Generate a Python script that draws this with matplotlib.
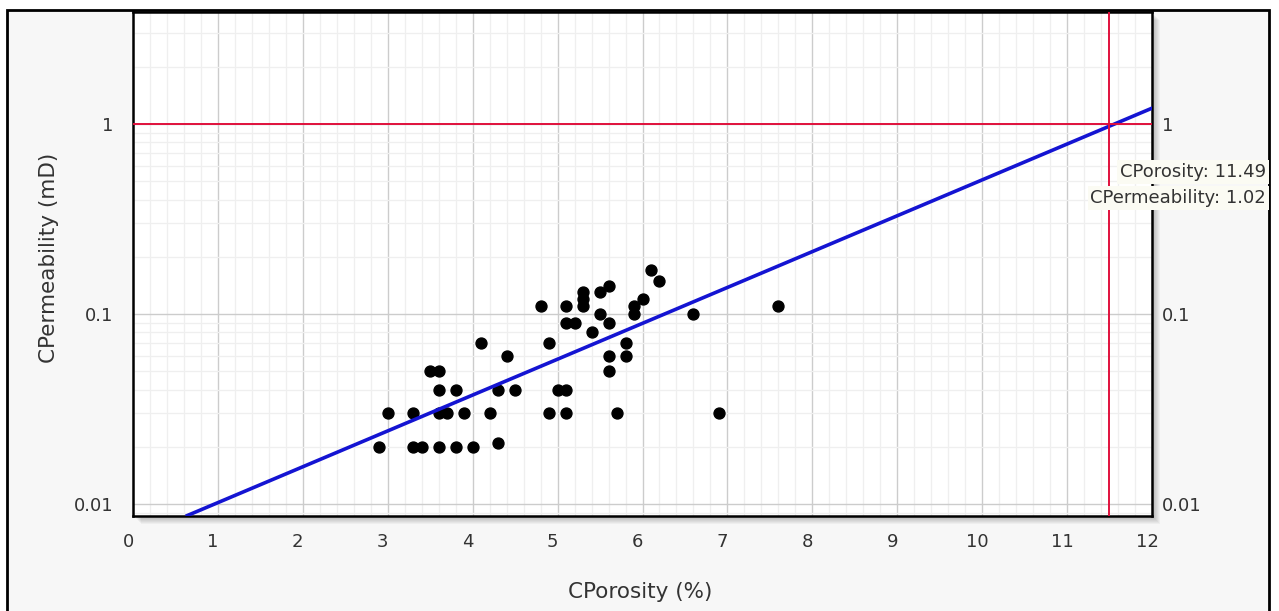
import numpy as np
import matplotlib
matplotlib.use("Agg")
import matplotlib.pyplot as plt
from matplotlib.patches import Rectangle
from matplotlib.ticker import MultipleLocator, LogLocator, NullFormatter, FixedLocator
from matplotlib.transforms import ScaledTranslation

# ---- data ----
porosity = [2.9, 3.0, 3.3, 3.3, 3.4, 3.5, 3.6, 3.6, 3.6, 3.6,
            3.7, 3.8, 3.8, 3.9, 4.0, 4.1, 4.2, 4.3, 4.3, 4.4,
            4.5, 4.8, 4.9, 4.9, 5.0, 5.1, 5.1, 5.1, 5.1, 5.2,
            5.3, 5.3, 5.3, 5.4, 5.5, 5.5, 5.6, 5.6, 5.6, 5.6,
            5.7, 5.8, 5.8, 5.9, 5.9, 6.0, 6.1, 6.2, 6.6, 6.9, 7.6]
permeability = [0.02, 0.03, 0.03, 0.02, 0.02, 0.05, 0.05, 0.04, 0.03, 0.02,
                0.03, 0.04, 0.02, 0.03, 0.02, 0.07, 0.03, 0.04, 0.021, 0.06,
                0.04, 0.11, 0.07, 0.03, 0.04, 0.04, 0.03, 0.09, 0.11, 0.09,
                0.11, 0.12, 0.13, 0.08, 0.13, 0.10, 0.14, 0.09, 0.06, 0.05,
                0.03, 0.07, 0.06, 0.11, 0.10, 0.12, 0.17, 0.15, 0.10, 0.03, 0.11]

trend_x = [0.64, 12.0]
trend_y = [0.0087, 1.21]

cursor_x = 11.49
cursor_y = 1.0
cursor_label = ["CPorosity: 11.49", "CPermeability: 1.02"]

x_ticks = list(range(0, 13))
y_ticks = [0.01, 0.1, 1]
y_ticklabels = ["0.01", "0.1", "1"]

# ---- figure ----
W, H = 1279, 611
fig = plt.figure(figsize=(W / 100, H / 100), dpi=100, facecolor="white")
plt.rcParams["font.family"] = ["DejaVu Sans"]
fs = 13
fs_lab = 15.5

# outer panel frame
fig.patches.append(Rectangle((7 / W, -0.05), 1262 / W, 1 - 10 / H + 0.05,
                             transform=fig.transFigure, facecolor="#f7f7f7",
                             edgecolor="black", linewidth=2, zorder=0))

l, r, t, b = 133 / W, 1152 / W, 1 - 12 / H, 1 - 516 / H
# soft drop shadow behind the plot area
for i in range(1, 9):
    fig.patches.append(Rectangle((l + i / W, b - i / H), r - l, t - b,
                                 transform=fig.transFigure, facecolor="black",
                                 edgecolor="none", alpha=0.035, zorder=0.5))

ax = fig.add_axes([l, b, r - l, t - b], zorder=1)
ax.set_facecolor("white")
ax.set_yscale("log")
ax.set_xlim(0, 12)
ax.set_ylim(0.00865, 3.88)

ax.xaxis.set_major_locator(FixedLocator(x_ticks))
ax.xaxis.set_minor_locator(MultipleLocator(0.2))
ax.yaxis.set_major_locator(FixedLocator(y_ticks))
ax.set_yticklabels(y_ticklabels)
ax.yaxis.set_minor_locator(LogLocator(base=10, subs=np.arange(2, 10)))
ax.yaxis.set_minor_formatter(NullFormatter())

ax.grid(which="major", color="#cccccc", linewidth=1.0, zorder=0)
ax.grid(which="minor", color="#efefef", linewidth=0.9, zorder=0)
ax.set_axisbelow(True)

ax.tick_params(which="both", length=0, labelsize=fs, colors="#333333")
ax.tick_params(axis="x", pad=12)
ax.tick_params(axis="y", pad=7, labelright=True)
for sp in ax.spines.values():
    sp.set_linewidth(1.8)
    sp.set_color("black")

# nudge tick labels like the original control does
for lab in ax.get_xticklabels():
    lab.set_transform(lab.get_transform() + ScaledTranslation(-0.05, 0, fig.dpi_scale_trans))
for tick in ax.yaxis.get_major_ticks():
    tick.label1.set_transform(tick.label1.get_transform() + ScaledTranslation(-0.1, 0, fig.dpi_scale_trans))

# data
ax.scatter(porosity, permeability, s=62, color="black", zorder=3)
ax.plot(trend_x, trend_y, color="#1414d2", linewidth=2.6, zorder=4)

# cursor crosshair
ax.axhline(cursor_y, color="#e0103c", linewidth=1.4, zorder=5)
ax.axvline(cursor_x, color="#e0103c", linewidth=1.4, zorder=5)

ax.set_xlabel("CPorosity (%)", fontsize=fs_lab, color="#333333")
ax.xaxis.set_label_coords(0.4975, -0.151)
ax.xaxis.label.set_va("center")
ax.set_ylabel("CPermeability (mD)", fontsize=fs_lab, color="#333333")
ax.yaxis.set_label_coords(-0.0824, 0.512)
ax.yaxis.label.set_va("center")

# tooltip
for j, txt in enumerate(cursor_label):
    fig.text(1266 / W, 1 - (172 + 26 * j) / H, txt, ha="right", va="center",
             fontsize=fs, color="#333333", zorder=10,
             bbox=dict(facecolor="#fbfbf3", edgecolor="none", pad=2))

fig.savefig("out.png", dpi=100, facecolor=fig.get_facecolor())
